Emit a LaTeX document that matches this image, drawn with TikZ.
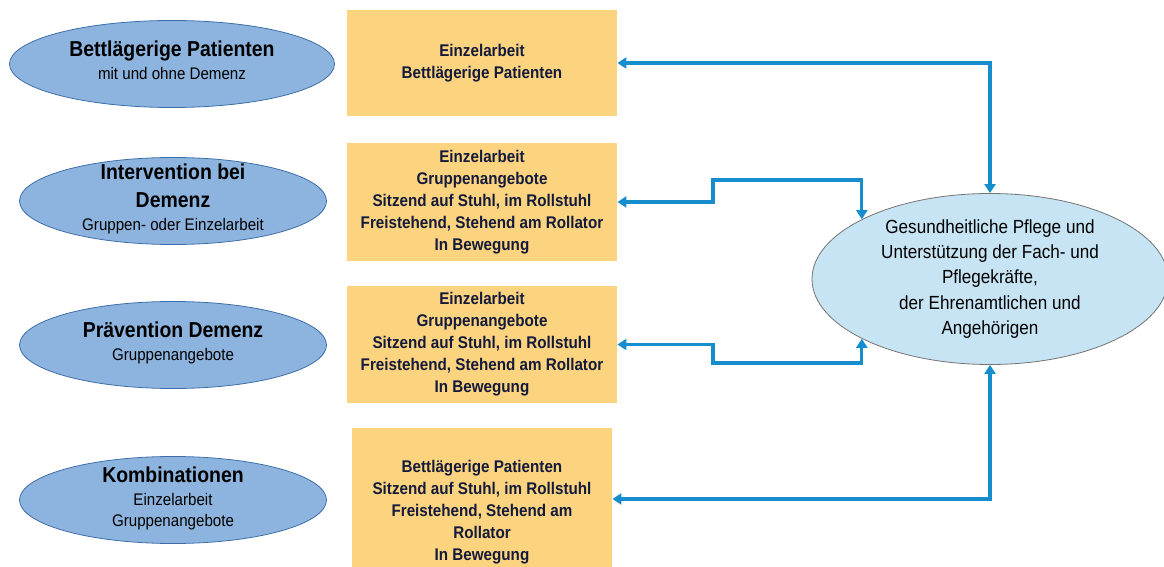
\documentclass[tikz,border=0pt]{standalone}
\usepackage{fontspec}
\setmainfont{Liberation Sans}[FakeStretch=0.9]
\usetikzlibrary{shapes.geometric,arrows.meta}
\definecolor{groupblue}{RGB}{141,180,222}
\definecolor{groupedge}{RGB}{62,110,170}
\definecolor{careblue}{RGB}{198,228,243}
\definecolor{offeryellow}{RGB}{252,212,128}
\definecolor{linkblue}{RGB}{22,142,206}
\definecolor{offertext}{RGB}{20,26,58}
\newcommand{\gtitle}{\bfseries\fontsize{10.8}{14}\selectfont}
\newcommand{\grouptext}[1]{\raisebox{-3.5pt}{\smash{\begin{tabular}{@{}c@{}}#1\end{tabular}}}}
\begin{document}
\begin{tikzpicture}[x=0.5pt, y=-0.5pt,
    group/.style={ellipse, draw=groupedge, fill=groupblue, thin, inner sep=0pt,
      minimum width=153.5pt, minimum height=43.5pt, font=\fontsize{8.4}{11.5}\selectfont},
    offer/.style={fill=offeryellow, text=offertext, minimum width=135pt, align=center,
      font=\bfseries\fontsize{8.45}{11}\selectfont},
    care/.style={ellipse, draw=black!55, fill=careblue, thin, inner sep=0pt, align=center,
      minimum width=178pt, minimum height=85.5pt, font=\fontsize{9.5}{12.7}\selectfont},
    link/.style={draw=linkblue, line width=1.6pt,
      {Triangle[length=4.5pt,width=5.5pt]}-{Triangle[length=4.5pt,width=5.5pt]}}]
  \useasboundingbox (0,0) rectangle (1164,567);
  \node[group, minimum width=162.5pt] (bed) at (172,64)
    {\grouptext{\gtitle Bettlägerige Patienten\\mit und ohne Demenz}};
  \node[group] (interv) at (173,201)
    {\grouptext{\gtitle Intervention bei\\[2.5pt]\gtitle Demenz\\Gruppen- oder Einzelarbeit}};
  \node[group] (prev) at (173,345)
    {\grouptext{\gtitle Prävention Demenz\\Gruppenangebote}};
  \node[group] (combi) at (173,500)
    {\grouptext{\gtitle Kombinationen\\Einzelarbeit\\[-1pt]Gruppenangebote}};

  \node[offer, minimum height=53pt] (b1) at (482,63)
    {Einzelarbeit\\Bettlägerige Patienten};
  \node[offer, minimum height=59pt] (b2) at (482,202)
    {Einzelarbeit\\Gruppenangebote\\Sitzend auf Stuhl, im Rollstuhl\\Freistehend, Stehend am Rollator\\In Bewegung};
  \node[offer, minimum height=58.5pt] (b3) at (482,344.5)
    {Einzelarbeit\\Gruppenangebote\\Sitzend auf Stuhl, im Rollstuhl\\Freistehend, Stehend am Rollator\\In Bewegung};
  \node[offer, minimum width=130pt, minimum height=84pt] (b4) at (482,512)
    {Bettlägerige Patienten\\Sitzend auf Stuhl, im Rollstuhl\\Freistehend, Stehend am\\Rollator\\In Bewegung};

  \node[care] (care) at (990,279)
    {Gesundheitliche Pflege und\\Unterstützung der Fach- und\\Pflegekräfte,\\der Ehrenamtlichen und\\Angehörigen};

  \draw[link] (b1.east) -| (care.north);
  \draw[link] (b2.east) -| (713,180) -| (care.155);
  \draw[link] (b3.east) -| (713,363) -| (care.205);
  \draw[link] ([yshift=6.5pt]b4.east) -| (care.south);
\end{tikzpicture}
\end{document}
